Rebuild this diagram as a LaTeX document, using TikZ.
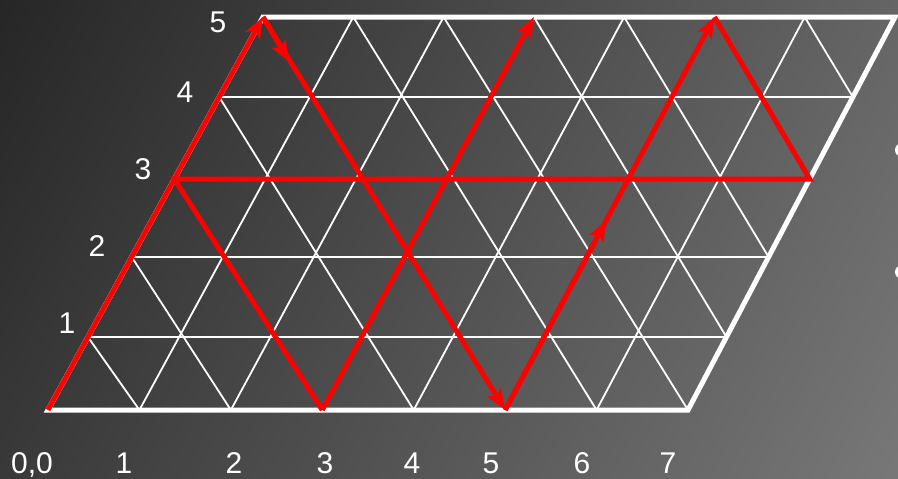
\documentclass[tikz,border=0pt]{standalone}
\usepackage{fontspec}
\setmainfont{Liberation Sans}
\usetikzlibrary{arrows.meta,calc}
\definecolor{bgA}{gray}{0.149}
\definecolor{bgB}{gray}{0.47}
\definecolor{pathred}{RGB}{255,0,0}
\pgfdeclarehorizontalshading{bgshade}{1100bp}{color(0bp)=(bgA); color(1018bp)=(bgB)}
\tikzset{
  gridline/.style={white, line width=1.8pt},
  frameline/.style={white, line width=5pt, line join=miter},
  redpath/.style={pathred, line width=5pt, line join=miter},
  tipped/.style={-{Stealth[length=21pt,width=16pt,inset=5pt]}},
  lbl/.style={white, font=\fontsize{30}{36}\selectfont, anchor=base, inner sep=0pt},
  bullet/.style={white, fill=white},
}
\begin{document}
\begin{tikzpicture}[x=1pt,y=-1pt]
\useasboundingbox (0,0) rectangle (898,479);
\clip (0,0) rectangle (898,479);
% background gradient
\node[rotate=-29.5, inner sep=0pt] (bg) at (449,239.5) {\pgfuseshading{bgshade}};
% lattice points
\def\rowy{{410,337,257,179,97,17}}
\foreach \i in {0,...,7}{
  \foreach \j in {0,...,5}{
    \pgfmathsetmacro\yy{\rowy[\j]}
    \pgfmathsetmacro\xx{48+640*\i/7+(410-\yy)/393*(215-8*\i/7)}
    \coordinate (p\i\j) at (\xx,\yy);
  }
}
% thin grid
\foreach \j in {1,...,4}{\draw[gridline] (p0\j) -- (p7\j);}
\foreach \i in {1,...,6}{\draw[gridline] (p\i0) -- (p\i5);}
\foreach \s in {1,...,11}{
  \pgfmathtruncatemacro\ia{min(7,\s)}
  \pgfmathtruncatemacro\ja{\s-\ia}
  \pgfmathtruncatemacro\ib{max(0,\s-5)}
  \pgfmathtruncatemacro\jb{\s-\ib}
  \draw[gridline] (p\ia\ja) -- (p\ib\jb);
}
% frame
\draw[frameline] (p00) -- (p70) -- (p75) -- (p05) -- cycle;
% red path
\draw[redpath, tipped] (p00) -- (p05);
\draw[redpath, tipped] (p05) -- (p50);
\draw[redpath, tipped] (p05) -- ($(p05)!0.56!(p14)$);
\draw[redpath, tipped] (p50) -- (p55);
\draw[redpath, tipped] (p50) -- ($(p52)!0.47!(p53)$);
\draw[redpath] (p55) -- (p73) -- (p03) -- (p30);
\draw[redpath, tipped] (p30) -- (p35);
% left labels
\node[lbl] (ly1) at (67,333) {1};
\node[lbl] (ly2) at (97,256) {2};
\node[lbl] (ly3) at (143,179) {3};
\node[lbl] (ly4) at (185,102) {4};
\node[lbl] (ly5) at (218,32) {5};
% bottom labels
\node[lbl] (lx0) at (32,473) {0,0};
\node[lbl] (lx1) at (124,473) {1};
\node[lbl] (lx2) at (234,473) {2};
\node[lbl] (lx3) at (325,473) {3};
\node[lbl] (lx4) at (412,473) {4};
\node[lbl] (lx5) at (491,473) {5};
\node[lbl] (lx6) at (582,473) {6};
\node[lbl] (lx7) at (668,473) {7};
% bullets cut at the right edge
\fill[bullet] (902,150) circle (7);
\fill[bullet] (902,272) circle (7);
\end{tikzpicture}
\end{document}
